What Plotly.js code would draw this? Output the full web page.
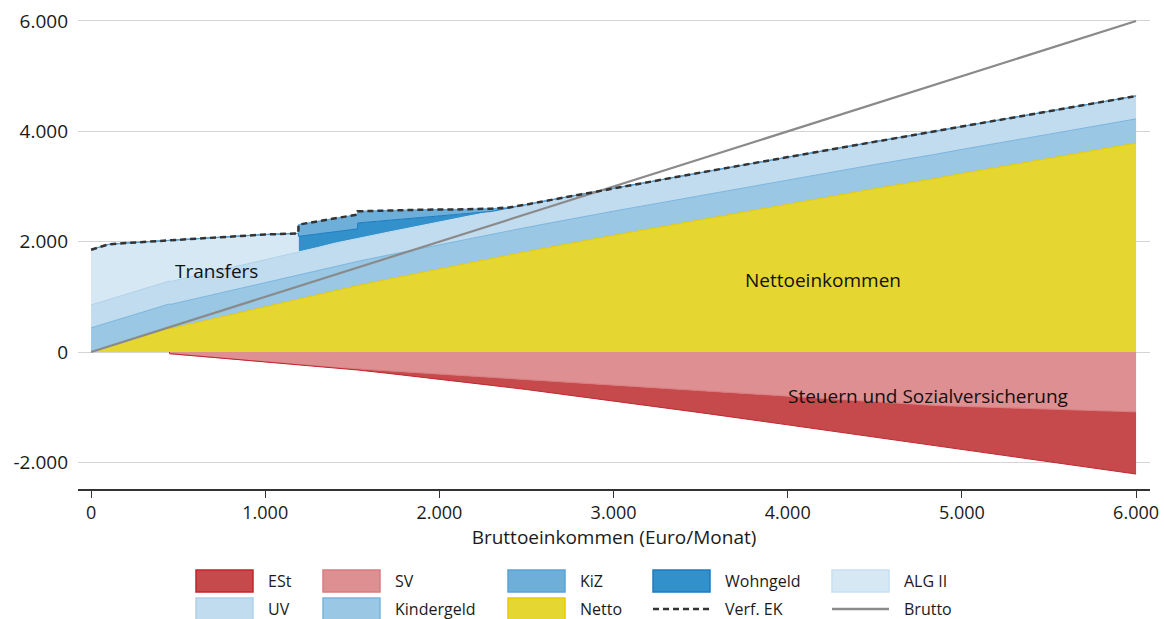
<!DOCTYPE html>
<html>
<head>
<meta charset="utf-8">
<script src="https://cdn.plot.ly/plotly-3.0.1.min.js"></script>
<style>html,body{margin:0;padding:0;background:#fff;}#chart{width:1164px;height:619px;}</style>
</head>
<body>
<div id="chart"></div>
<script>
// ---- data (Euro/Monat) ----
const brutto = [0, 100, 200, 300, 450, 451, 600, 800, 1000, 1190, 1191, 1300, 1400, 1530, 1531, 1700, 1900, 2100, 2200, 2300, 2400, 2450, 2500, 2600, 3000, 3500, 4000, 4500, 4837, 5000, 5500, 6000];
const netto = [0, 97, 193, 290, 434, 421, 530, 675, 821, 960, 961, 1040, 1120, 1204, 1205, 1315, 1445, 1570, 1632, 1695, 1757, 1788, 1820, 1880, 2115, 2400, 2680, 2960, 3140, 3235, 3510, 3788];
const kindergeld = [438, 438, 438, 438, 438, 438, 438, 438, 438, 438, 438, 438, 438, 438, 438, 438, 438, 438, 438, 438, 438, 438, 438, 438, 438, 438, 438, 438, 438, 438, 438, 438];
const uv = [415, 415, 415, 415, 415, 415, 415, 415, 415, 415, 415, 415, 415, 415, 415, 415, 415, 415, 415, 415, 415, 415, 415, 415, 415, 415, 415, 415, 415, 415, 415, 415];
const alg2 = [1001, 1000, 929, 852, 738, 751, 672, 567, 456, 337, 0, 0, 0, 0, 0, 0, 0, 0, 0, 0, 0, 0, 0, 0, 0, 0, 0, 0, 0, 0, 0, 0];
const wohngeld = [0, 0, 0, 0, 0, 0, 0, 0, 0, 0, 283, 247, 207, 175, 281, 216, 139, 67, 32, 0, 0, 0, 0, 0, 0, 0, 0, 0, 0, 0, 0, 0];
const kiz = [0, 0, 0, 0, 0, 0, 0, 0, 0, 0, 212, 228, 242, 260, 212, 186, 143, 95, 73, 50, 10, 0, 0, 0, 0, 0, 0, 0, 0, 0, 0, 0];
const verfEK = [1854, 1950, 1975, 1995, 2025, 2025, 2055, 2095, 2130, 2150, 2309, 2368, 2422, 2492, 2551, 2570, 2580, 2585, 2590, 2598, 2620, 2641, 2673, 2733, 2968, 3253, 3533, 3813, 3993, 4088, 4363, 4641];

const bruttoNeg = [450, 451, 600, 800, 1000, 1190, 1300, 1400, 1530, 1700, 1900, 2100, 2300, 2500, 3000, 3500, 4000, 4500, 4837, 5000, 5500, 6000];
const sv = [0, -30, -70, -125, -179, -230, -260, -280, -306, -340, -380, -420, -460, -500, -600, -700, -800, -900, -967, -985, -1040, -1085];
const est = [0, 0, 0, 0, 0, 0, 0, 0, -20, -45, -75, -110, -145, -180, -285, -400, -520, -640, -730, -780, -950, -1127];

const bruttoLineX = [0, 6000];
const bruttoLineY = [0, 6000];

const xTickVals = [0, 1000, 2000, 3000, 4000, 5000, 6000];
const xTickText = ['0', '1.000', '2.000', '3.000', '4.000', '5.000', '6.000'];
const yTickVals = [-2000, 0, 2000, 4000, 6000];
const yTickText = ['-2.000', '0', '2.000', '4.000', '6.000'];

const legendNames = ['ESt', 'SV', 'KiZ', 'Wohngeld', 'ALG II', 'UV', 'Kindergeld', 'Netto', 'Verf. EK', 'Brutto'];
const labelTransfers = 'Transfers';
const labelNetto = 'Nettoeinkommen';
const labelSteuern = 'Steuern und Sozialversicherung';
const xTitle = 'Bruttoeinkommen (Euro/Monat)';

// ---- styles ----
const sty = {
  'ESt':       {fill: '#c64a4b', line: '#c0262e', kind: 'area'},
  'SV':        {fill: '#dd8f91', line: '#d97c80', kind: 'area'},
  'KiZ':       {fill: '#6dafd9', line: '#5aa3d5', kind: 'area'},
  'Wohngeld':  {fill: '#3290cb', line: '#1c7bc2', kind: 'area'},
  'ALG II':    {fill: '#d6e8f4', line: '#c8e0f1', kind: 'area'},
  'UV':        {fill: '#c2dcef', line: '#aed0ea', kind: 'area'},
  'Kindergeld':{fill: '#99c7e4', line: '#78b5de', kind: 'area'},
  'Netto':     {fill: '#e5d632', line: '#e6cb00', kind: 'area'},
  'Verf. EK':  {line: '#333333', kind: 'dash'},
  'Brutto':    {line: '#8a8a8a', kind: 'solid'}
};

function area(name, x, y, group) {
  return {x: x, y: y, name: name, type: 'scatter', mode: 'lines', stackgroup: group,
    line: {color: sty[name].line, width: 1}, fillcolor: sty[name].fill, hoverinfo: 'skip'};
}

const traces = [
  area('Netto', brutto, netto, 'pos'),
  area('Kindergeld', brutto, kindergeld, 'pos'),
  area('UV', brutto, uv, 'pos'),
  area('ALG II', brutto, alg2, 'pos'),
  area('Wohngeld', brutto, wohngeld, 'pos'),
  area('KiZ', brutto, kiz, 'pos'),
  area('SV', bruttoNeg, sv, 'neg'),
  area('ESt', bruttoNeg, est, 'neg'),
  {x: bruttoLineX, y: bruttoLineY, name: 'Brutto', type: 'scatter', mode: 'lines',
   line: {color: sty['Brutto'].line, width: 2.2}, hoverinfo: 'skip'},
  {x: brutto, y: verfEK, name: 'Verf. EK', type: 'scatter', mode: 'lines',
   line: {color: sty['Verf. EK'].line, width: 2.5, dash: '6px,4px'}, hoverinfo: 'skip'}
];

// ---- manual legend (pixel helpers) ----
const M = {l: 78, r: 14, t: 10, b: 130};
const W = 1164, H = 619;
const pw = W - M.l - M.r, ph = H - M.t - M.b;
const px2x = p => (p - M.l) / pw;
const px2y = p => (H - M.b - p) / ph;

const colLeft = [196, 323, 508, 653, 832];
const rowTop = [570, 598];
const boxW = 57, boxH = 22;
const shapes = [], annotations = [];
legendNames.forEach((nm, i) => {
  const c = i % 5, r = Math.floor(i / 5);
  const x0 = colLeft[c], y0 = rowTop[r];
  const s = sty[nm];
  if (s.kind === 'area') {
    shapes.push({type: 'rect', xref: 'paper', yref: 'paper',
      x0: px2x(x0), x1: px2x(x0 + boxW), y0: px2y(y0 + boxH), y1: px2y(y0),
      fillcolor: s.fill, line: {color: s.line, width: 1.5}});
  } else {
    shapes.push({type: 'line', xref: 'paper', yref: 'paper',
      x0: px2x(x0), x1: px2x(x0 + boxW), y0: px2y(y0 + boxH / 2), y1: px2y(y0 + boxH / 2),
      line: {color: s.line, width: s.kind === 'dash' ? 2.5 : 2.5, dash: s.kind === 'dash' ? '6px,4px' : 'solid'}});
  }
  annotations.push({xref: 'paper', yref: 'paper', x: px2x(x0 + 70), y: px2y(y0 + boxH / 2),
    xanchor: 'left', yanchor: 'middle', text: nm, showarrow: false,
    font: {size: 16, color: '#1a1a1a'}});
});

annotations.push({x: 718, y: 1469, xref: 'x', yref: 'y', text: labelTransfers, showarrow: false, font: {size: 19, color: '#111'}});
annotations.push({x: 4202, y: 1305, xref: 'x', yref: 'y', text: labelNetto, showarrow: false, font: {size: 19, color: '#111'}});
annotations.push({x: 4805, y: -798, xref: 'x', yref: 'y', text: labelSteuern, showarrow: false, font: {size: 19, color: '#111'}});

const layout = {
  width: W, height: H,
  margin: M,
  paper_bgcolor: '#ffffff', plot_bgcolor: '#ffffff',
  showlegend: false,
  font: {family: 'Open Sans, Noto Sans, sans-serif', color: '#1a1a1a'},
  xaxis: {range: [-75, 6080], tickmode: 'array', tickvals: xTickVals, ticktext: xTickText,
    ticks: 'outside', ticklen: 7, tickwidth: 1, tickcolor: '#333',
    showline: true, linecolor: '#333', linewidth: 1.5, showgrid: false, zeroline: false,
    tickfont: {size: 18, color: '#1a1a1a'},
    title: {text: xTitle, font: {size: 19, color: '#1a1a1a'}, standoff: 0}},
  yaxis: {range: [-2483, 6199], tickmode: 'array', tickvals: yTickVals, ticktext: yTickText,
    showgrid: true, gridcolor: '#d4d4d4', gridwidth: 1, zeroline: false, showline: false,
    ticks: '', ticklabelstandoff: 9, tickfont: {size: 19, color: '#1a1a1a'}},
  shapes: shapes,
  annotations: annotations
};

Plotly.newPlot('chart', traces, layout, {staticPlot: true, displayModeBar: false});
</script>
</body>
</html>
